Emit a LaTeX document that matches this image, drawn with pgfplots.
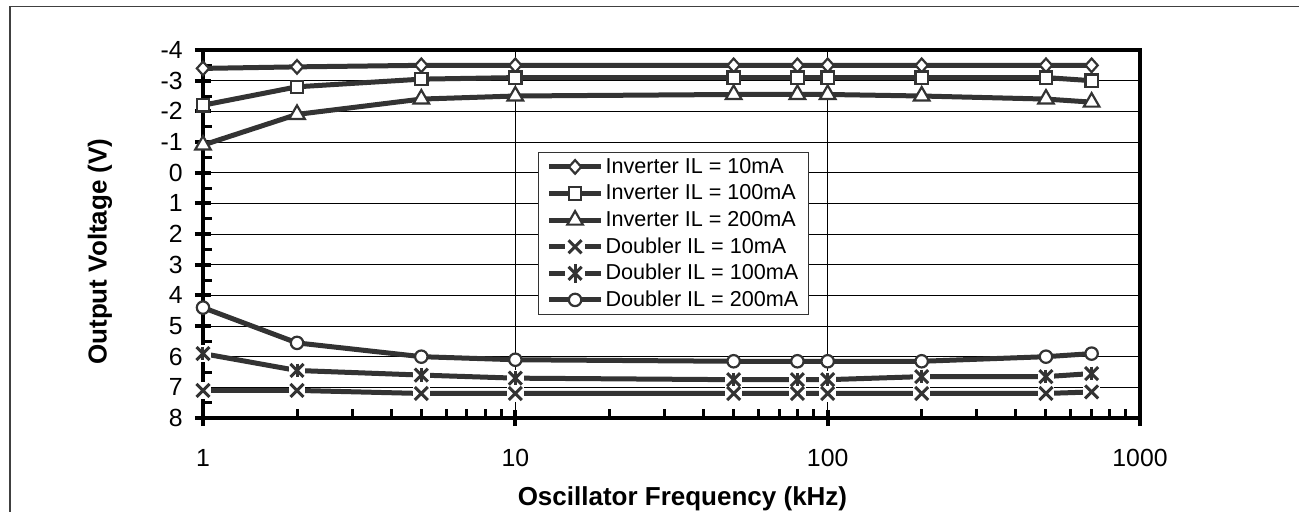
\documentclass[border=0pt]{standalone}
\usepackage{fontspec}
\setmainfont{Liberation Sans}
\usepackage{pgfplots}
\usepackage{pgfplotstable}
\pgfplotsset{compat=1.18}
\definecolor{dg}{HTML}{333333}
\pgfplotstableread{
x    inva  invb  invc  dbla dblb dblc
1    -3.40 -2.20 -0.90 7.10 5.90 4.40
2    -3.45 -2.80 -1.90 7.10 6.45 5.55
5    -3.50 -3.05 -2.40 7.20 6.60 6.00
10   -3.50 -3.10 -2.50 7.20 6.70 6.10
50   -3.50 -3.10 -2.55 7.20 6.75 6.15
80   -3.50 -3.10 -2.55 7.20 6.75 6.15
100  -3.50 -3.10 -2.55 7.20 6.75 6.15
200  -3.50 -3.10 -2.50 7.20 6.65 6.15
500  -3.50 -3.10 -2.40 7.20 6.65 6.00
700  -3.50 -3.00 -2.30 7.15 6.55 5.90
}\datatab
\pgfplotsset{
  mylegend/.style={legend image code/.code={\draw[mark repeat=2,mark phase=2,##1] plot coordinates {(0pt,0pt) (13pt,0pt) (26pt,0pt)};}},
  gaplegend/.style={legend image code/.code={\draw[line width=2.5pt,dg] (0pt,0pt) -- (26pt,0pt); \fill[white] (8.5pt,-4pt) rectangle (17.5pt,4pt); \draw[##1] plot coordinates {(13pt,0pt)};}},
  gaplegendstar/.style={legend image code/.code={\draw[line width=2.5pt,dg] (0pt,0pt) -- (26pt,0pt); \fill[white] (8.5pt,-4pt) rectangle (17.5pt,4pt); \draw[##1] plot coordinates {(13pt,0pt)}; \draw[##1, mark=|] plot coordinates {(13pt,0pt)};}},
  invstyle/.style={line width=2.5pt, color=dg, mark options={solid, fill=white, draw=dg, line width=1.1pt}, mylegend},
  gapstyle/.style={forget plot, line width=2.5pt, color=dg, mark=square*, mark size=3.6pt, mark options={solid, fill=white, draw=white, line width=1pt}},
  xmk/.style={only marks, color=dg, mark=x, mark size=4.6pt, mark options={solid, line width=1.5pt}},
}
\begin{document}
\begin{tikzpicture}
\useasboundingbox (-101.5pt,-46.5pt) rectangle (548pt,209pt);
\draw[line width=0.7pt, color=black!75] (-96.5pt,-60pt) -- (-96.5pt,205.7pt) -- (560pt,205.7pt);
\begin{axis}[
  at={(0,0)}, anchor=south west,
  scale only axis, width=468.5pt, height=184pt,
  xmode=log, log basis x=10,
  xmin=1, xmax=1000, ymin=-4, ymax=8,
  y dir=reverse,
  clip=false,
  xtick={1,10,100,1000}, xticklabels={1,10,100,1000},
  minor xtick={2,3,4,5,6,7,8,9,20,30,40,50,60,70,80,90,200,300,400,500,600,700,800,900},
  ytick={-4,-3,...,8}, yticklabels={-4,-3,-2,-1,0,1,2,3,4,5,6,7,8},
  minor y tick num=1,
  xtick pos=bottom, ytick pos=left,
  tick align=inside,
  major tick length=8pt, minor tick length=4.5pt,
  major x tick style={yshift=-4pt},
  major y tick style={xshift=-4pt},
  major tick style={line width=2pt, black},
  minor tick style={line width=1.5pt, black},
  axis line style={line width=2pt, black},
  xmajorgrids, ymajorgrids,
  major grid style={line width=0.5pt, black},
  ticklabel style={font=\fontsize{12.4}{14}\selectfont},
  yticklabel style={inner sep=0pt, anchor=east, xshift=-10pt},
  xticklabel style={inner sep=0pt, anchor=north, yshift=-15.5pt},
  xlabel={Oscillator Frequency (kHz)},
  ylabel={Output Voltage (V)},
  label style={font=\fontsize{13}{15}\selectfont\bfseries},
  xlabel style={at={(axis description cs:0.5117,0)}, anchor=north, inner sep=0pt, yshift=-34pt},
  ylabel style={at={(axis description cs:-0.1099,0.4524)}, anchor=center, inner sep=0pt},
  legend style={at={(axis description cs:0.3575,0.7228)}, anchor=north west,
    draw=black!80, line width=0.6pt, inner xsep=4pt, inner ysep=0.5pt, row sep=0pt,
    font=\fontsize{10.8}{12}\selectfont,
    nodes={inner sep=1pt, text height=8.8pt, text depth=2.5pt}},
  legend cell align=left,
]
\addplot[invstyle, mark=diamond*, mark size=3.4pt, mark options={solid, fill=white, draw=dg, line width=1.1pt, xscale=1.2}] table[x=x, y=inva] {\datatab};
\addlegendentry{Inverter IL = 10mA}
\addplot[invstyle, mark=square*, mark size=3.1pt] table[x=x, y=invb] {\datatab};
\addlegendentry{Inverter IL = 100mA}
\addplot[invstyle, mark=triangle*, mark size=4.5pt] table[x=x, y=invc] {\datatab};
\addlegendentry{Inverter IL = 200mA}
\addplot[gapstyle] table[x=x, y=dbla] {\datatab};
\addplot[gapstyle] table[x=x, y=dblb] {\datatab};
\addplot[xmk, gaplegend] table[x=x, y=dbla] {\datatab};
\addlegendentry{Doubler IL = 10mA}
\addplot[xmk, gaplegendstar] table[x=x, y=dblb] {\datatab};
\addlegendentry{Doubler IL = 100mA}
\addplot[xmk, mark=|, mark size=3.4pt, forget plot] table[x=x, y=dblb] {\datatab};
\addplot[invstyle, mark=*, mark size=3.1pt] table[x=x, y=dblc] {\datatab};
\addlegendentry{Doubler IL = 200mA}
\end{axis}
\end{tikzpicture}
\end{document}
